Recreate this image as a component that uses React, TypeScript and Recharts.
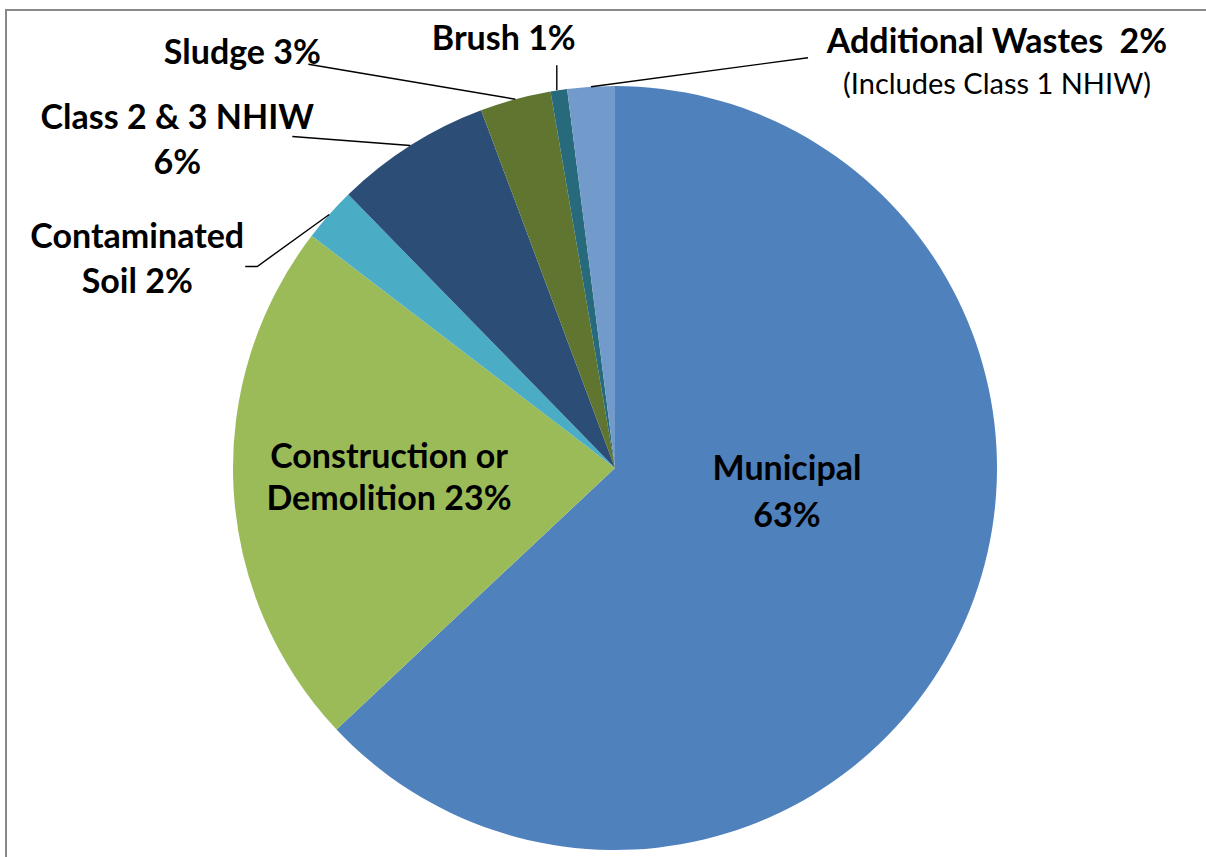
import { PieChart, Pie, Cell } from 'recharts';

const categories = [
  'Municipal',
  'Construction or Demolition',
  'Contaminated Soil',
  'Class 2 & 3 NHIW',
  'Sludge',
  'Brush',
  'Additional Wastes',
];
const shares = [63, 22.4, 2.3, 6.6, 3.0, 0.7, 2.0];
const labelText = [
  ['Municipal', '63%'],
  ['Construction or', 'Demolition 23%'],
  ['Contaminated', 'Soil 2%'],
  ['Class 2 & 3 NHIW', '6%'],
  ['Sludge 3%'],
  ['Brush 1%'],
  ['Additional Wastes  2%'],
];
const noteText = '(Includes Class 1 NHIW)';
const sliceColors = ['#4F81BD', '#9BBB59', '#4BACC6', '#2C4D75', '#5F7530', '#276A7C', '#729ACA'];

// label placement: inside labels are offset from the pie centre,
// outside labels from the point on the rim at the slice's mid angle
type LabelLayout = {
  from: 'center' | 'rim';
  dx: number;
  baselines: number[];
  line?: number[][];
};
const labelLayout: LabelLayout[] = [
  { from: 'center', dx: 172, baselines: [12, 59] },
  { from: 'center', dx: -226, baselines: [0, 42] },
  { from: 'rim', dx: -192, baselines: [34, 79], line: [[-84, 52], [-72, 52], [0, 0]] },
  { from: 'rim', dx: -233, baselines: [-16, 29], line: [[-118, -9], [0, 0]] },
  { from: 'rim', dx: -273, baselines: [-35], line: [[-207, -35], [0, 0]] },
  { from: 'rim', dx: -55, baselines: [-40], line: [[-2, -25], [-2, 0]] },
  { from: 'rim', dx: 406, baselines: [-34], line: [[217, -29], [0, 0]] },
];

const data = categories.map((name, i) => ({ name, value: shares[i] }));

const RADIAN = Math.PI / 180;
const FONT = 'Lato, "Open Sans", sans-serif';

function renderLabel(props: any) {
  const { cx, cy, midAngle, outerRadius, index } = props;
  const layout = labelLayout[index];
  let ax = cx;
  let ay = cy;
  if (layout.from === 'rim') {
    ax = cx + outerRadius * Math.cos(-midAngle * RADIAN);
    ay = cy + outerRadius * Math.sin(-midAngle * RADIAN);
  }
  const lines = labelText[index];
  return (
    <g key={`lbl-${index}`}>
      {layout.line && (
        <polyline
          points={layout.line.map(([x, y]) => `${ax + x},${ay + y}`).join(' ')}
          fill="none"
          stroke="#000"
          strokeWidth={1.4}
        />
      )}
      {lines.map((t, j) => (
        <text
          key={j}
          x={ax + layout.dx}
          y={ay + layout.baselines[j]}
          textAnchor="middle"
          fontFamily={FONT}
          fontWeight={700}
          fontSize={34}
          fill="#000"
          style={{ whiteSpace: 'pre' }}
        >
          {t}
        </text>
      ))}
      {index === 6 && (
        <text
          x={ax + layout.dx}
          y={ay + 7}
          textAnchor="middle"
          fontFamily={FONT}
          fontSize={29}
          fill="#000"
        >
          {noteText}
        </text>
      )}
    </g>
  );
}

export default function App() {
  return (
    <div
      style={{
        position: 'absolute',
        left: 0,
        top: 0,
        width: 1206,
        height: 857,
        overflow: 'hidden',
        background: '#fff',
      }}
    >
      <div
        style={{
          position: 'absolute',
          left: 5,
          top: 9,
          width: 1260,
          height: 900,
          border: '2px solid #898989',
          boxSizing: 'border-box',
        }}
      />
      <div style={{ position: 'absolute', left: 0, top: 0 }}>
        <PieChart width={1206} height={857} margin={{ top: 0, right: 0, bottom: 0, left: 0 }}>
          <Pie
            data={data}
            dataKey="value"
            nameKey="name"
            cx={615}
            cy={468}
            outerRadius={382}
            startAngle={90}
            endAngle={-270}
            stroke="none"
            label={renderLabel}
            labelLine={false}
            isAnimationActive={false}
          >
            {data.map((d, i) => (
              <Cell key={d.name} fill={sliceColors[i]} />
            ))}
          </Pie>
        </PieChart>
      </div>
    </div>
  );
}
